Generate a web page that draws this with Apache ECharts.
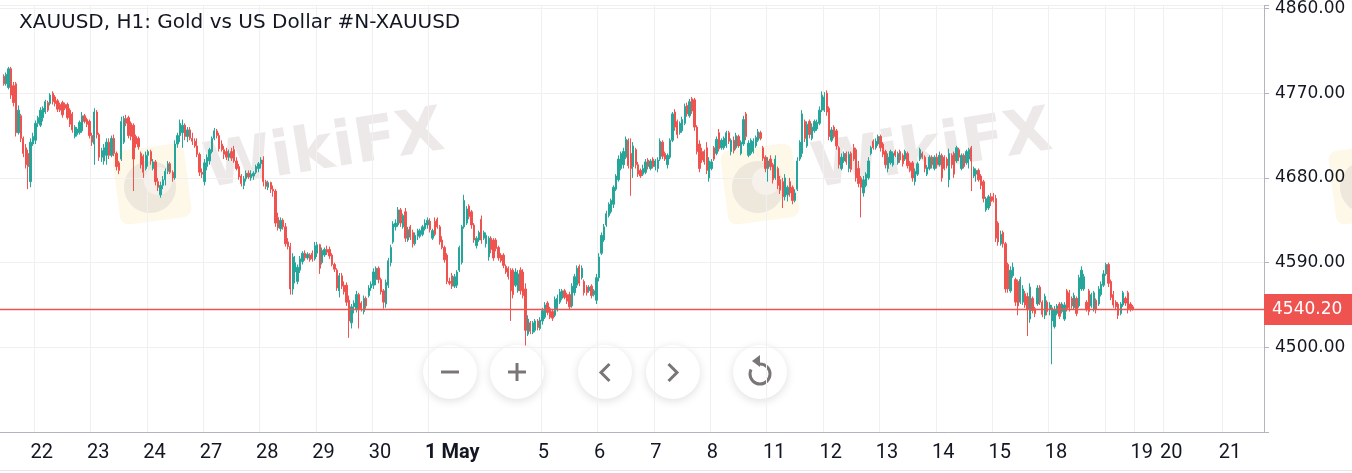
<!DOCTYPE html>
<html>
<head>
<meta charset="utf-8">
<title>XAUUSD H1</title>
<script src="https://cdn.jsdelivr.net/npm/echarts@6.0.0/dist/echarts.min.js"></script>
<style>
  html, body { margin: 0; padding: 0; background: #fff; }
  #chart { width: 1352px; height: 473px; }
</style>
</head>
<body>
<div id="chart"></div>
<script>
// hourly candles, each [open, close, low, high]
const apr21 = [[4788,4780,4778,4790],[4780,4790,4778,4792],[4776,4796,4774,4798],[4796,4768,4764,4798],[4778,4760,4756,4782],[4780,4728,4724,4782],[4728,4752,4726,4757],[4746,4722,4718,4748],[4722,4706,4702,4724],[4712,4694,4690,4716],[4706,4692,4668,4710],[4676,4718,4670,4722],[4716,4724,4714,4728]];
const apr22 = [[4720,4738,4716,4741],[4738,4744,4734,4746],[4736,4752,4734,4755],[4744,4754,4740,4756],[4750,4761,4748,4763],[4760,4752,4750,4762],[4759,4768,4757,4770],[4770,4761,4758,4772],[4766,4759,4756,4768],[4762,4753,4750,4764],[4758,4752,4750,4760],[4760,4747,4744,4762],[4758,4754,4752,4760],[4758,4744,4742,4760],[4752,4737,4734,4754],[4748,4731,4728,4750],[4724,4734,4722,4736],[4726,4732,4724,4734],[4728,4739,4726,4741],[4730,4746,4728,4750],[4746,4740,4738,4748],[4742,4737,4734,4744],[4740,4725,4722,4742]];
const apr23 = [[4725,4718,4714,4728],[4716,4750,4694,4754],[4750,4726,4722,4752],[4726,4702,4698,4728],[4702,4709,4697,4712],[4698,4712,4694,4716],[4704,4718,4694,4722],[4718,4704,4700,4722],[4704,4722,4702,4725],[4722,4706,4703,4726],[4706,4692,4688,4708],[4696,4688,4684,4698],[4700,4740,4698,4745],[4718,4743,4716,4746],[4743,4738,4735,4747],[4744,4725,4722,4746],[4738,4724,4720,4740],[4736,4700,4666,4738],[4724,4716,4712,4726],[4722,4713,4710,4724],[4706,4694,4690,4708],[4703,4686,4680,4705],[4690,4704,4688,4708]];
const apr24 = [[4704,4708,4692,4710],[4708,4698,4694,4710],[4690,4697,4688,4700],[4697,4676,4672,4699],[4676,4670,4666,4680],[4662,4672,4659,4676],[4672,4678,4668,4682],[4678,4687,4672,4690],[4687,4695,4684,4698],[4695,4686,4684,4697],[4686,4680,4676,4688],[4680,4716,4678,4720],[4716,4725,4712,4728],[4725,4738,4718,4742],[4728,4736,4712,4742],[4736,4724,4720,4738],[4724,4731,4718,4734],[4731,4722,4720,4734],[4722,4719,4715,4728],[4719,4714,4712,4722],[4714,4705,4702,4722],[4705,4686,4682,4707],[4686,4684,4680,4690]];
const apr27 = [[4676,4696,4672,4700],[4692,4702,4688,4705],[4698,4710,4694,4712],[4708,4722,4706,4724],[4722,4730,4720,4733],[4730,4725,4722,4732],[4725,4711,4708,4728],[4716,4710,4708,4720],[4710,4705,4700,4714],[4708,4702,4699,4712],[4702,4706,4698,4710],[4708,4701,4698,4712],[4710,4698,4696,4714],[4698,4690,4688,4702],[4692,4681,4678,4695],[4682,4674,4671,4684],[4672,4679,4668,4682],[4679,4685,4676,4688],[4685,4681,4679,4688],[4680,4684,4677,4688],[4682,4685,4678,4687],[4686,4692,4684,4694],[4690,4695,4686,4697]];
const apr28 = [[4695,4699,4690,4702],[4699,4676,4671,4703],[4676,4671,4668,4678],[4670,4675,4667,4677],[4675,4668,4664,4676],[4668,4666,4660,4672],[4666,4632,4628,4668],[4638,4627,4624,4643],[4626,4635,4623,4638],[4635,4628,4625,4637],[4628,4610,4607,4632],[4612,4607,4604,4616],[4607,4562,4556,4611],[4562,4596,4556,4600],[4580,4590,4568,4597],[4570,4585,4567,4588],[4582,4594,4579,4597],[4591,4600,4588,4602],[4600,4595,4592,4603],[4595,4599,4593,4601],[4598,4593,4591,4600],[4600,4594,4591,4603],[4594,4608,4592,4612]];
const apr29 = [[4600,4609,4596,4612],[4609,4584,4578,4610],[4590,4603,4588,4606],[4598,4604,4596,4606],[4604,4601,4598,4608],[4604,4597,4594,4607],[4598,4588,4586,4600],[4588,4583,4580,4590],[4582,4563,4560,4584],[4560,4576,4553,4579],[4576,4565,4562,4579],[4566,4559,4556,4570],[4566,4548,4544,4569],[4550,4528,4510,4555],[4526,4543,4520,4546],[4543,4547,4536,4550],[4540,4556,4537,4560],[4556,4540,4520,4558],[4547,4541,4538,4549],[4538,4552,4535,4555],[4552,4544,4541,4554],[4555,4563,4553,4566],[4563,4567,4560,4570]];
const apr30 = [[4566,4580,4562,4584],[4572,4584,4566,4586],[4584,4572,4568,4586],[4572,4559,4556,4574],[4560,4548,4541,4562],[4546,4569,4542,4572],[4566,4592,4563,4595],[4590,4606,4586,4609],[4612,4631,4610,4634],[4628,4632,4624,4636],[4630,4646,4628,4649],[4646,4632,4628,4648],[4628,4640,4626,4642],[4644,4616,4612,4648],[4614,4625,4612,4628],[4628,4617,4614,4630],[4622,4610,4606,4625],[4610,4619,4608,4622],[4618,4624,4614,4626],[4618,4624,4616,4626],[4620,4628,4618,4630],[4626,4632,4624,4636],[4630,4635,4626,4638]];
const may1 = [[4634,4625,4622,4637],[4616,4624,4614,4626],[4634,4620,4618,4638],[4636,4628,4626,4638],[4628,4612,4609,4630],[4614,4606,4604,4618],[4606,4593,4590,4608],[4598,4570,4567,4600],[4570,4568,4566,4574],[4576,4565,4562,4579],[4565,4575,4563,4578],[4566,4580,4563,4582],[4582,4606,4580,4608],[4590,4628,4588,4630],[4628,4656,4626,4662],[4632,4647,4630,4650],[4650,4639,4636,4652],[4644,4630,4626,4646],[4630,4614,4611,4632],[4608,4616,4605,4618],[4614,4622,4612,4624],[4636,4614,4610,4640],[4616,4622,4614,4624]];
const may4 = [[4610,4619,4606,4622],[4596,4616,4592,4618],[4616,4604,4600,4618],[4614,4595,4592,4616],[4614,4605,4602,4616],[4606,4595,4592,4608],[4598,4592,4590,4600],[4598,4587,4584,4600],[4586,4580,4578,4588],[4584,4575,4572,4586],[4582,4560,4528,4584],[4582,4556,4552,4584],[4566,4580,4564,4584],[4560,4578,4558,4582],[4582,4560,4556,4585],[4580,4555,4552,4583],[4562,4518,4502,4568],[4514,4530,4512,4534],[4526,4517,4514,4528],[4516,4526,4514,4528],[4518,4528,4516,4530],[4528,4521,4518,4530],[4520,4529,4518,4532]];
const may5 = [[4528,4539,4524,4542],[4532,4545,4530,4548],[4547,4537,4534,4549],[4541,4532,4530,4543],[4538,4531,4528,4540],[4534,4551,4532,4554],[4540,4552,4538,4556],[4548,4559,4546,4562],[4552,4560,4550,4562],[4560,4553,4551,4562],[4556,4549,4546,4558],[4556,4543,4540,4559],[4544,4565,4542,4568],[4558,4575,4555,4578],[4566,4584,4563,4587],[4586,4568,4565,4588],[4574,4584,4572,4587],[4570,4558,4555,4572],[4564,4558,4555,4566],[4560,4564,4558,4566],[4565,4555,4552,4567],[4556,4560,4554,4562],[4550,4574,4546,4578]];
const may6 = [[4574,4596,4570,4600],[4600,4619,4598,4622],[4614,4628,4612,4631],[4630,4642,4628,4645],[4640,4652,4638,4654],[4644,4656,4642,4658],[4652,4670,4648,4672],[4668,4682,4666,4684],[4678,4700,4676,4704],[4690,4706,4688,4708],[4694,4708,4690,4712],[4702,4721,4700,4724],[4720,4693,4690,4722],[4706,4690,4661,4722],[4692,4714,4680,4718],[4710,4694,4690,4712],[4694,4684,4681,4697],[4688,4682,4680,4690],[4684,4690,4682,4694],[4686,4697,4684,4700],[4699,4692,4689,4701],[4690,4698,4688,4700],[4700,4692,4690,4702]];
const may7 = [[4692,4698,4688,4700],[4690,4699,4686,4702],[4700,4719,4698,4722],[4718,4703,4700,4720],[4706,4700,4698,4708],[4694,4704,4690,4706],[4702,4720,4700,4722],[4720,4748,4718,4750],[4750,4734,4730,4753],[4740,4726,4722,4742],[4728,4738,4726,4740],[4730,4742,4728,4745],[4738,4756,4736,4759],[4757,4748,4745,4760],[4746,4761,4744,4764],[4764,4751,4748,4766],[4763,4734,4730,4765],[4734,4708,4705,4736],[4716,4690,4686,4720],[4708,4699,4696,4712],[4708,4697,4694,4710],[4712,4688,4684,4718],[4680,4698,4676,4702]];
const may8 = [[4690,4697,4688,4700],[4712,4700,4698,4714],[4706,4721,4704,4724],[4728,4711,4708,4732],[4712,4720,4710,4722],[4712,4722,4710,4724],[4714,4728,4712,4730],[4728,4719,4716,4730],[4708,4720,4704,4722],[4720,4709,4706,4724],[4712,4725,4710,4728],[4724,4714,4712,4726],[4706,4718,4704,4720],[4716,4742,4714,4746],[4748,4724,4720,4750],[4704,4717,4702,4720],[4706,4720,4704,4722],[4708,4719,4706,4722],[4714,4723,4712,4725],[4720,4729,4718,4732],[4728,4722,4720,4730],[4712,4701,4698,4714],[4702,4690,4686,4704]];
const may11 = [[4690,4698,4676,4702],[4700,4692,4688,4704],[4694,4678,4674,4696],[4680,4700,4678,4704],[4690,4672,4668,4692],[4678,4667,4663,4682],[4676,4660,4648,4680],[4660,4680,4656,4684],[4662,4670,4655,4672],[4676,4664,4660,4680],[4670,4656,4652,4672],[4656,4664,4654,4668],[4668,4698,4666,4702],[4700,4718,4698,4720],[4706,4748,4702,4752],[4740,4722,4718,4742],[4714,4737,4712,4740],[4740,4726,4722,4742],[4722,4734,4720,4738],[4730,4740,4728,4742],[4732,4739,4730,4742],[4738,4752,4736,4756],[4752,4768,4750,4772]];
const may12 = [[4752,4766,4750,4771],[4770,4750,4746,4773],[4754,4724,4720,4756],[4720,4731,4718,4734],[4734,4724,4722,4736],[4730,4714,4710,4732],[4712,4694,4690,4714],[4690,4702,4688,4706],[4698,4706,4696,4708],[4706,4697,4694,4708],[4690,4705,4686,4708],[4706,4689,4686,4708],[4712,4700,4698,4716],[4710,4680,4676,4712],[4690,4674,4670,4698],[4680,4670,4638,4682],[4664,4678,4660,4682],[4672,4684,4670,4686],[4680,4698,4678,4702],[4706,4712,4704,4714],[4719,4712,4710,4721],[4712,4719,4710,4722],[4716,4724,4714,4726]];
const may13 = [[4724,4712,4708,4726],[4716,4705,4702,4718],[4708,4694,4690,4710],[4690,4702,4686,4706],[4696,4708,4694,4710],[4694,4706,4692,4708],[4708,4704,4702,4710],[4696,4706,4694,4708],[4708,4699,4696,4710],[4704,4695,4692,4706],[4700,4708,4698,4710],[4706,4693,4690,4708],[4696,4688,4686,4698],[4696,4680,4676,4698],[4676,4687,4672,4690],[4684,4695,4682,4697],[4700,4710,4698,4712],[4706,4702,4700,4708],[4702,4690,4686,4704],[4684,4691,4682,4694],[4690,4702,4688,4704],[4702,4694,4690,4704],[4690,4702,4688,4704]];
const may14 = [[4702,4694,4690,4706],[4694,4704,4692,4708],[4704,4680,4676,4706],[4702,4690,4688,4704],[4700,4693,4690,4702],[4678,4706,4670,4711],[4704,4694,4690,4706],[4706,4684,4680,4708],[4698,4712,4696,4714],[4710,4702,4698,4712],[4690,4704,4688,4706],[4704,4692,4690,4706],[4696,4708,4694,4710],[4700,4710,4690,4712],[4712,4698,4666,4714],[4682,4690,4680,4692],[4684,4688,4676,4690],[4688,4678,4676,4690],[4682,4672,4668,4684],[4676,4658,4654,4678],[4646,4658,4644,4660],[4648,4660,4646,4662],[4660,4655,4650,4664]];
const may15 = [[4660,4656,4654,4664],[4658,4616,4612,4662],[4632,4612,4608,4634],[4610,4620,4608,4624],[4622,4610,4606,4624],[4610,4562,4558,4612],[4588,4562,4558,4590],[4560,4582,4558,4586],[4576,4585,4574,4590],[4572,4548,4544,4574],[4570,4544,4534,4572],[4548,4572,4546,4575],[4548,4562,4545,4566],[4557,4545,4542,4560],[4554,4540,4512,4558],[4530,4564,4526,4568],[4552,4539,4536,4554],[4541,4536,4532,4543],[4546,4563,4544,4566],[4564,4548,4545,4566],[4548,4535,4532,4550],[4534,4554,4530,4557],[4548,4538,4534,4550]];
const may18 = [[4540,4545,4534,4548],[4528,4542,4482,4545],[4522,4540,4520,4544],[4536,4544,4534,4546],[4546,4533,4530,4548],[4538,4546,4536,4548],[4530,4545,4528,4548],[4560,4541,4538,4562],[4558,4542,4538,4561],[4552,4544,4541,4554],[4542,4555,4540,4558],[4552,4536,4533,4554],[4544,4574,4542,4577],[4562,4582,4560,4586],[4562,4575,4560,4578],[4548,4540,4538,4550],[4560,4538,4534,4562],[4544,4556,4542,4558],[4540,4558,4538,4560],[4550,4540,4536,4552],[4546,4562,4544,4565],[4556,4567,4554,4570],[4566,4578,4564,4582]];
const may19 = [[4578,4588,4576,4590],[4588,4568,4564,4590],[4570,4553,4550,4572],[4556,4545,4542,4560],[4548,4543,4540,4550],[4546,4534,4530,4548],[4536,4546,4534,4548],[4545,4558,4543,4560],[4552,4547,4544,4554],[4558,4540,4536,4560],[4546,4541,4538,4548],[4543,4540.2,4539,4545]];

const sessionDays = ['21', '22', '23', '24', '27', '28', '29', '30', '1 May', '4', '5', '6', '7', '8', '11', '12', '13', '14', '15', '18', '19'];
const sessionBars = [apr21, apr22, apr23, apr24, apr27, apr28, apr29, apr30, may1, may4, may5, may6, may7, may8, may11, may12, may13, may14, may15, may18, may19];
const futureDays = ['19', '20', '21'];
const futureSlots = [12, 24, 17];
const lastPrice = 4540.2;
const priceTicks = [4500, 4590, 4680, 4770, 4860];
const title = 'XAUUSD, H1: Gold vs US Dollar #N-XAUUSD';

const UP = '#26a69a';
const DOWN = '#ef5350';
const LABEL_SHIFT = 2; // date text starts a little left of its tick

// build the slot list; tick map: slot index -> label ('' means tick without label)
let categories = ['start'];
let candles = ['-'];
let ticks = new Map();
sessionDays.forEach(function (day, s) {
  if (s > 0 && day !== '4') {
    ticks.set(categories.length, day === '19' ? '' : day);
  }
  sessionBars[s].forEach(function (bar, i) {
    categories.push(day + ' h' + i);
    candles.push(bar);
  });
});
futureDays.forEach(function (day, s) {
  ticks.set(categories.length, day);
  for (let i = 0; i < futureSlots[s]; i++) {
    categories.push(day + ' f' + i);
    candles.push('-');
  }
});

function labelAt(i) {
  return ticks.get(i + LABEL_SHIFT) || '';
}

// watermark: logo tile + WikiFX text
function watermark(x) {
  return {
    type: 'group',
    z: 1,
    silent: true,
    children: [
      {
        type: 'rect',
        x: x, y: 184, rotation: 0.13,
        shape: { x: -36, y: -37, width: 72, height: 74, r: 9 },
        style: { fill: 'rgba(250,222,150,0.22)' }
      },
      {
        type: 'circle',
        x: x - 2, y: 187,
        shape: { r: 26 },
        style: { fill: 'rgba(190,180,180,0.25)' }
      },
      {
        type: 'circle',
        x: x + 6, y: 181,
        shape: { r: 14 },
        style: { fill: 'rgba(255,255,255,0.45)' }
      },
      {
        type: 'text',
        x: x + 172, y: 152, rotation: 0.16,
        style: {
          text: 'WikiFX', fill: 'rgba(185,170,165,0.26)',
          font: 'bold 62px "DejaVu Sans"', align: 'center', verticalAlign: 'middle'
        }
      }
    ]
  };
}

function button(cx, icon) {
  return {
    type: 'group', z: 100,
    children: [{
      type: 'circle', x: cx, y: 372, shape: { r: 27 },
      style: { fill: '#fff', shadowBlur: 10, shadowOffsetY: 2, shadowColor: 'rgba(0,0,0,0.13)' }
    }].concat(icon)
  };
}
const iconStyle = { stroke: '#7a7676', lineWidth: 3, fill: null };

let chart = echarts.init(document.getElementById('chart'), null, { renderer: 'canvas' });

let option = {
  animation: false,
  backgroundColor: '#fff',
  title: {
    text: title,
    left: 14, top: 8,
    textStyle: { fontFamily: 'DejaVu Sans', fontSize: 20, fontWeight: 'normal', color: '#131722' }
  },
  grid: { left: 0, right: 88, top: 0, bottom: 41, containLabel: false },
  xAxis: {
    type: 'category',
    data: categories,
    boundaryGap: true,
    axisLine: { lineStyle: { color: '#b2b5be', width: 1 } },
    axisTick: {
      interval: function (i) { return ticks.has(i); },
      length: 5,
      lineStyle: { color: '#b2b5be' }
    },
    axisLabel: {
      interval: function (i) { return labelAt(i) !== ''; },
      formatter: function (v, i) {
        let t = labelAt(i);
        return t.indexOf('May') > 0 ? '{b|' + t + '}' : t;
      },
      align: 'left',
      margin: 11,
      color: '#131722',
      fontFamily: 'Roboto',
      fontSize: 20,
      rich: { b: { fontWeight: 'bold', fontFamily: 'Roboto', fontSize: 20, color: '#131722' } }
    },
    splitLine: {
      show: true,
      interval: function (i) { return ticks.has(i); },
      lineStyle: { color: '#f0f0f0' }
    }
  },
  yAxis: {
    type: 'value',
    position: 'right',
    min: 4410,
    max: 4863.15,
    interval: 90,
    axisLine: { show: true, lineStyle: { color: '#b2b5be' } },
    axisTick: { show: true, length: 5, lineStyle: { color: '#b2b5be' } },
    axisLabel: {
      margin: 11,
      color: '#131722',
      fontFamily: 'DejaVu Sans',
      fontSize: 17,
      formatter: function (v) { return priceTicks.indexOf(v) >= 0 ? v.toFixed(2) : ''; }
    },
    splitLine: { lineStyle: { color: '#f0f0f0' } }
  },
  series: [{
    type: 'candlestick',
    data: candles,
    barWidth: 1.8,
    itemStyle: { color: UP, color0: DOWN, borderColor: UP, borderColor0: DOWN, borderWidth: 1 },
    markLine: {
      silent: true,
      symbol: ['none', 'none'],
      animation: false,
      lineStyle: { color: DOWN, width: 1.3, type: 'solid', opacity: 1 },
      label: {
        position: 'end',
        distance: 0,
        formatter: lastPrice.toFixed(2),
        color: '#fff',
        backgroundColor: DOWN,
        padding: [7, 14, 7, 8],
        fontFamily: 'DejaVu Sans',
        fontSize: 17
      },
      data: [{ yAxis: lastPrice }]
    }
  }],
  graphic: [
    watermark(152),
    watermark(760),
    watermark(1368),
    { type: 'line', z: 1, shape: { x1: 0, y1: 470.5, x2: 1352, y2: 470.5 }, style: { stroke: '#e6e6e6', lineWidth: 1 } },
    button(450, [{ type: 'line', shape: { x1: 441, y1: 372, x2: 459, y2: 372 }, style: iconStyle }]),
    button(517, [
      { type: 'line', shape: { x1: 508, y1: 372, x2: 526, y2: 372 }, style: iconStyle },
      { type: 'line', shape: { x1: 517, y1: 363, x2: 517, y2: 381 }, style: iconStyle }
    ]),
    button(605, [{ type: 'polyline', shape: { points: [[609.5, 364], [601, 372.5], [609.5, 381]] }, style: iconStyle }]),
    button(673, [{ type: 'polyline', shape: { points: [[668.5, 364], [677, 372.5], [668.5, 381]] }, style: iconStyle }]),
    button(760, [
      { type: 'arc', shape: { cx: 760, cy: 374, r: 10, startAngle: -Math.PI / 2, endAngle: Math.PI * 1.15, clockwise: true }, style: iconStyle },
      { type: 'polygon', shape: { points: [[760, 355], [752, 361], [760, 367]] }, style: { fill: '#7a7676' } }
    ])
  ]
};

chart.setOption(option);
</script>
</body>
</html>
